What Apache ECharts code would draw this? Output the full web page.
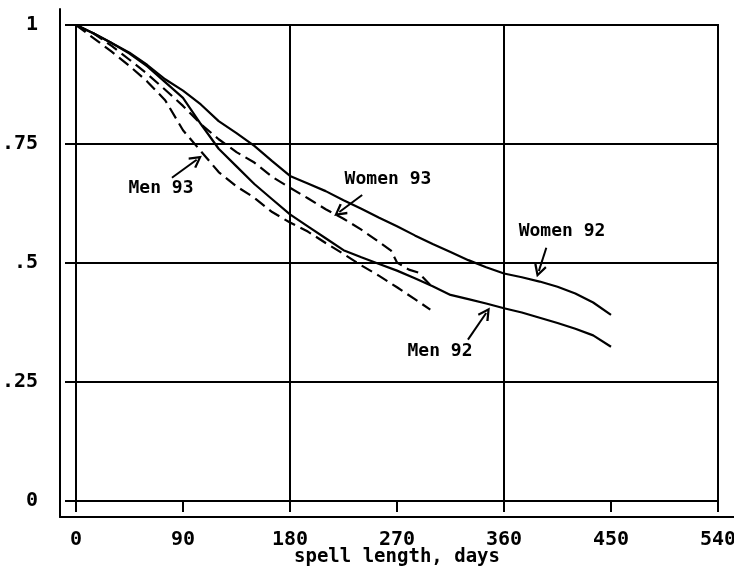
<!DOCTYPE html>
<html>
<head>
<meta charset="utf-8">
<script src="https://cdn.jsdelivr.net/npm/echarts@6/dist/echarts.min.js"></script>
<style>
html,body{margin:0;padding:0;background:#fff;}
#chart{width:734px;height:573px;}
</style>
</head>
<body>
<div id="chart"></div>
<script>
// ---- data ----
const xTicks = [0, 90, 180, 270, 360, 450, 540];
const yTickLabels = ['0', '.25', '.5', '.75', '1'];
const xTitle = 'spell length, days';

const days92 = [0,15,30,45,60,75,90,105,120,135,150,165,180,195,210,225,240,255,270,285,300,315,330,345,360,375,390,405,420,435,450];
const men92 = [1.0,0.982,0.962,0.940,0.913,0.880,0.847,0.792,0.740,0.703,0.666,0.634,0.602,0.577,0.552,0.527,0.512,0.498,0.484,0.468,0.451,0.433,0.424,0.415,0.405,0.396,0.385,0.374,0.362,0.348,0.324];
const women92 = [1.0,0.982,0.962,0.942,0.916,0.886,0.862,0.833,0.798,0.773,0.746,0.714,0.683,0.667,0.651,0.632,0.614,0.595,0.577,0.558,0.540,0.523,0.506,0.491,0.478,0.470,0.461,0.450,0.436,0.417,0.391];

const daysMen93 = [0,15,30,45,60,75,90,105,120,135,150,165,180,195,210,225,240,255,270,285,298];
const men93 = [1.0,0.972,0.944,0.914,0.881,0.842,0.779,0.735,0.691,0.661,0.637,0.607,0.585,0.566,0.542,0.519,0.495,0.473,0.449,0.424,0.402];

const daysWomen93 = [0,15,30,45,60,75,90,105,120,135,150,165,180,195,210,225,240,255,265,270,280,288,298];
const women93 = [1.0,0.982,0.956,0.927,0.897,0.864,0.830,0.792,0.760,0.733,0.711,0.681,0.658,0.636,0.613,0.593,0.570,0.544,0.526,0.501,0.486,0.480,0.454];

// annotations: label [day, value], arrow tail and tip [day, value]
const labelMen93 = {text: 'Men 93', at: [71.5, 0.656], tail: [80.7, 0.679], tip: [101.5, 0.717]};
const labelWomen93 = {text: 'Women 93', at: [262.4, 0.675], tail: [240.7, 0.643], tip: [221.5, 0.607]};
const labelWomen92 = {text: 'Women 92', at: [408.8, 0.566], tail: [395.6, 0.532], tip: [389.3, 0.483]};
const labelMen92 = {text: 'Men 92', at: [306.2, 0.314], tail: [329.7, 0.339], tip: [345.0, 0.395]};

// ---- chart ----
const FONT = 'DejaVu Sans Mono';
const ARROW = 'path://M6,0 L12,11 L10.2,12.2 L6,4.2 L1.8,12.2 L0,11 Z';

function pairs(xs, ys) { return xs.map((x, i) => [x, ys[i]]); }

function annot(a) {
  return {
    markLine: {
      silent: true,
      animation: false,
      label: {show: false},
      lineStyle: {color: '#000', width: 2, type: 'solid'},
      data: [[
        {coord: a.tail, symbol: 'none'},
        {coord: a.tip, symbol: ARROW, symbolSize: [13, 13]}
      ]]
    },
    markPoint: {
      silent: true,
      animation: false,
      symbol: 'circle',
      symbolSize: 1,
      itemStyle: {color: 'rgba(0,0,0,0)'},
      label: {show: true, position: 'inside', color: '#000', fontSize: 18, fontWeight: 'bold', fontFamily: FONT, formatter: a.text},
      data: [{coord: a.at}]
    }
  };
}

function lineSeries(name, xs, ys, dashed, a) {
  return Object.assign({
    name: name,
    type: 'line',
    xAxisIndex: 0,
    yAxisIndex: 0,
    data: pairs(xs, ys),
    showSymbol: false,
    symbol: 'none',
    lineStyle: {color: '#000', width: 2.2, type: dashed ? [12, 6] : 'solid'},
    z: 3
  }, annot(a));
}

const chart = echarts.init(document.getElementById('chart'), null, {renderer: 'canvas'});
chart.setOption({
  animation: false,
  backgroundColor: '#fff',
  grid: [
    {left: 76, right: 16, top: 25, bottom: 72, show: true, borderColor: '#000', borderWidth: 2, containLabel: false, outerBoundsMode: 'none'},
    {left: 60, right: 0, top: 9, bottom: 56, show: false, containLabel: false, outerBoundsMode: 'none'}
  ],
  xAxis: [
    {
      gridIndex: 0, type: 'value', min: xTicks[0], max: xTicks[xTicks.length - 1], interval: 90, offset: 16,
      axisLine: {show: false},
      axisTick: {show: true, length: 11, lineStyle: {color: '#000', width: 2}},
      axisLabel: {show: true, color: '#000', fontSize: 20, fontWeight: 'bold', fontFamily: FONT, margin: 13},
      splitLine: {show: false},
      name: xTitle, nameLocation: 'middle', nameGap: 31, nameMoveOverlap: false,
      nameTextStyle: {color: '#000', fontSize: 19, fontWeight: 'bold', fontFamily: FONT}
    },
    {
      gridIndex: 1, type: 'value', min: 0, max: 1,
      axisLine: {show: true, lineStyle: {color: '#000', width: 2}},
      axisTick: {show: false}, axisLabel: {show: false}, splitLine: {show: false}
    },
    {
      gridIndex: 0, type: 'value', min: 0, max: 540, interval: 180,
      axisLine: {show: false}, axisTick: {show: false}, axisLabel: {show: false},
      splitLine: {show: true, lineStyle: {color: '#000', width: 2}}
    }
  ],
  yAxis: [
    {
      gridIndex: 0, type: 'value', min: 0, max: 1, interval: 0.25, offset: 16,
      axisLine: {show: false},
      axisTick: {show: true, length: 11, lineStyle: {color: '#000', width: 2}},
      axisLabel: {show: true, color: '#000', fontSize: 20, fontWeight: 'bold', fontFamily: FONT, margin: 22,
        formatter: function (v) { return yTickLabels[Math.round(v / 0.25)]; }},
      splitLine: {show: true, lineStyle: {color: '#000', width: 2}}
    },
    {
      gridIndex: 1, type: 'value', min: 0, max: 1,
      axisLine: {show: true, lineStyle: {color: '#000', width: 2}},
      axisTick: {show: false}, axisLabel: {show: false}, splitLine: {show: false}
    }
  ],
  series: [
    lineSeries('Men 92', days92, men92, false, labelMen92),
    lineSeries('Women 92', days92, women92, false, labelWomen92),
    lineSeries('Men 93', daysMen93, men93, true, labelMen93),
    lineSeries('Women 93', daysWomen93, women93, true, labelWomen93)
  ]
});
</script>
</body>
</html>
